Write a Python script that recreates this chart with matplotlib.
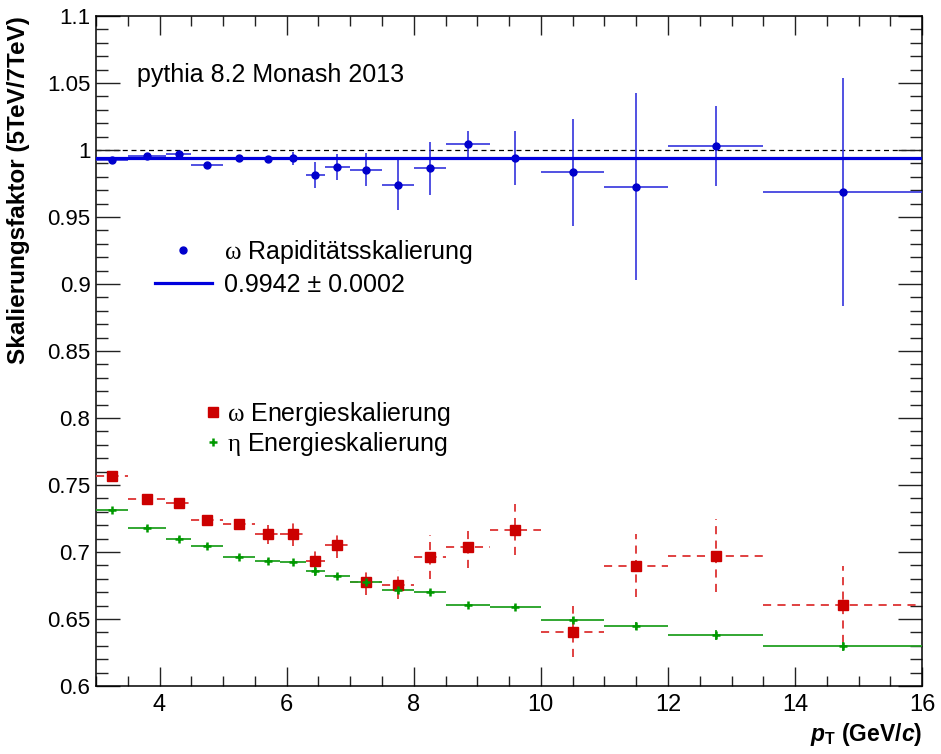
import numpy as np
import matplotlib
matplotlib.use("Agg")
from matplotlib import pyplot as plt
from matplotlib.lines import Line2D

plt.rcParams['font.family'] = ['Liberation Sans', 'DejaVu Sans']
plt.rcParams['mathtext.fontset'] = 'custom'
plt.rcParams['mathtext.rm'] = 'Liberation Serif'
plt.rcParams['mathtext.it'] = 'Liberation Sans:italic:bold'
plt.rcParams['mathtext.bf'] = 'Liberation Sans:bold'

# pT bins (GeV/c)
bin_edges = [3, 3.5, 4.1, 4.5, 5, 5.5, 5.9, 6.3, 6.6, 7, 7.5, 8, 8.5, 9.2, 10, 11, 12, 13.5, 16]
pt = [3.25, 3.8, 4.3, 4.75, 5.25, 5.7, 6.1, 6.45, 6.8, 7.25, 7.75, 8.25, 8.85, 9.6,
      10.5, 11.5, 12.75, 14.75]

# omega, rapidity scaling
omega_rap = [0.9928, 0.9953, 0.9970, 0.9891, 0.9940, 0.9936, 0.9938, 0.9814, 0.9873,
             0.9854, 0.9739, 0.9863, 1.0043, 0.9938, 0.9834, 0.9727, 1.0030, 0.9689]
omega_rap_err = [0.001, 0.001, 0.002, 0.001, 0.001, 0.001, 0.005, 0.010, 0.010,
                 0.012, 0.019, 0.020, 0.0095, 0.020, 0.040, 0.070, 0.030, 0.085]
fit_value = 0.9942

# omega, energy scaling
omega_en = [0.7570, 0.7399, 0.7369, 0.7242, 0.7212, 0.7132, 0.7132, 0.6936, 0.7055,
            0.6779, 0.6757, 0.6966, 0.7037, 0.7167, 0.6406, 0.6898, 0.6973, 0.6608]
omega_en_err = [0.001, 0.002, 0.003, 0.004, 0.005, 0.007, 0.0086, 0.0097, 0.0098,
                0.0098, 0.011, 0.0164, 0.016, 0.019, 0.0193, 0.0234, 0.0274, 0.0286]

# eta, energy scaling
eta_en = [0.7313, 0.7182, 0.7095, 0.7048, 0.6966, 0.6936, 0.6923, 0.6861, 0.6821,
          0.6774, 0.6719, 0.6704, 0.6602, 0.6593, 0.6493, 0.6446, 0.6381, 0.6296]
eta_en_err = [0.001, 0.001, 0.0015, 0.001, 0.001, 0.001, 0.001, 0.004, 0.0015,
              0.0015, 0.003, 0.001, 0.001, 0.001, 0.0025, 0.003, 0.0035, 0.0035]

edges = np.array(bin_edges)
x = np.array(pt)
xerr = [x - edges[:-1], edges[1:] - x]

fig = plt.figure(figsize=(9.41, 7.54), dpi=100)
ax = fig.add_axes([0.102, 0.0902, 0.878, 0.8886])

# reference line at 1
ax.axhline(1.0, color='black', lw=0.9, ls=(0, (4, 3)), zorder=1)

# energy scaling (red, dashed errors)
eb_r = ax.errorbar(x, omega_en, yerr=omega_en_err, xerr=xerr, fmt='s', ms=7,
                   color='#cc0000', ecolor='#dd3333', elinewidth=1.3, capsize=0, zorder=3)
eb_r[2][0].set_linestyle((0, (4.5, 3.5)))
eb_r[2][1].set_linestyle((0, (4.5, 3.5)))

eb_g = ax.errorbar(x, eta_en, yerr=eta_en_err, xerr=xerr, fmt='+', ms=6, mew=1.8,
                   color='#009900', ecolor='#22a022', elinewidth=1.3, capsize=0, zorder=3)

# rapidity scaling (blue)
ax.errorbar(x, omega_rap, yerr=omega_rap_err, xerr=xerr, fmt='o', ms=5,
            color='#0000cc', ecolor='#3333dd', elinewidth=1.2, capsize=0, zorder=4)
ax.plot([edges[0], edges[-1]], [fit_value, fit_value], color='#0000dd', lw=2.3, zorder=5)

ax.set_xlim(3, 16)
ax.set_ylim(0.6, 1.1)
ax.set_xticks([4, 6, 8, 10, 12, 14, 16])
ax.set_xticks(np.arange(3, 16.01, 0.5), minor=True)
ax.set_yticks(np.arange(0.6, 1.1001, 0.05))
ax.set_yticks(np.arange(0.6, 1.1001, 0.01), minor=True)
ax.set_yticklabels(['0.6', '0.65', '0.7', '0.75', '0.8', '0.85', '0.9', '0.95', '1',
                    '1.05', '1.1'])
ax.tick_params(which='both', direction='in', top=True, right=True, width=1.0, color='#222222')
ax.tick_params(which='major', axis='y', length=17, labelsize=16, pad=4)
ax.tick_params(which='minor', axis='y', length=8.5)
ax.tick_params(which='major', axis='x', length=14, labelsize=17, pad=6)
ax.tick_params(which='minor', axis='x', length=7)
for sp in ax.spines.values():
    sp.set_linewidth(1.1)

ax.set_ylabel('Skalierungsfaktor (5TeV/7TeV)', fontsize=17.5, fontweight='bold', loc='top')
ax.yaxis.set_label_coords(-0.080, 1.0)
ax.set_xlabel(r'$p_{\mathbf{T}}$ (GeV/$c$)', fontsize=16.5, fontweight='bold', loc='right')
ax.xaxis.set_label_coords(1.0, -0.052)

ax.text(0.05, 0.912, 'pythia 8.2 Monash 2013', transform=ax.transAxes, fontsize=18,
        va='center', ha='left')

h1 = Line2D([], [], marker='o', ls='none', ms=5, color='#0000cc')
h2 = Line2D([], [], color='#0000dd', lw=2.3)
leg1 = ax.legend([h1, h2], [r'$\mathrm{\omega}$ Rapiditätsskalierung', '0.9942 ± 0.0002'],
                 loc='upper left', bbox_to_anchor=(0.0714, 0.669), frameon=False,
                 fontsize=18, handlelength=2.28, handletextpad=0.5, labelspacing=0.29,
                 borderpad=0, borderaxespad=0)
ax.add_artist(leg1)

h3 = Line2D([], [], marker='s', ls='none', ms=7, color='#cc0000')
h4 = Line2D([], [], marker='+', ls='none', ms=6, mew=1.8, color='#009900')
ax.legend([h3, h4], [r'$\mathrm{\omega}$ Energieskalierung', r'$\mathrm{\eta}$ Energieskalierung'],
          loc='upper left', bbox_to_anchor=(0.1295, 0.427), frameon=False,
          fontsize=18, handlelength=0.8, handletextpad=0.16, labelspacing=0.09,
          borderpad=0, borderaxespad=0)

fig.savefig('out.png', dpi=100)
